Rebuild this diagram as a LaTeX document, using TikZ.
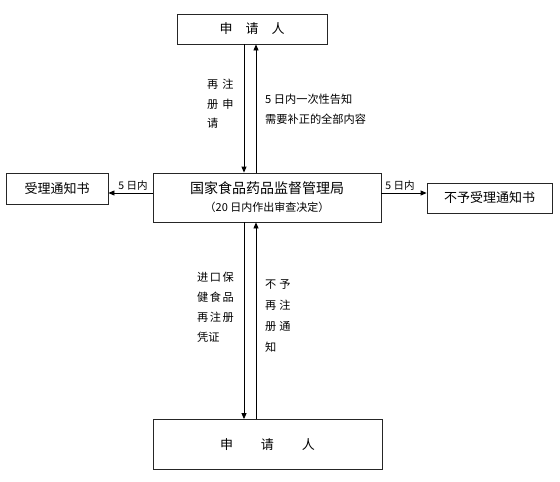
\documentclass[tikz,border=0pt]{standalone}
\usepackage{fontspec}
\setmainfont{Liberation Sans}
\newfontfamily\cjk{Noto Sans CJK SC}
\usetikzlibrary{arrows.meta, positioning}

\begin{document}
\begin{tikzpicture}[
    x=1pt, y=-1pt,
    box/.style={
        draw=black!85, line width=0.8pt, inner sep=0pt,
        align=center, font=\cjk\fontsize{13}{16}\selectfont
    },
    lbl/.style={
        align=left, inner sep=0pt, anchor=north west,
        font=\cjk\fontsize{11.2}{19.5}\selectfont
    },
    tag/.style={inner sep=0pt, font=\cjk\fontsize{10.5}{12}\selectfont},
    arr/.style={-{Triangle[length=6pt,width=5pt]}, line width=0.8pt},
    >=Triangle
]
\useasboundingbox (0,0) rectangle (560,482);

% --- Boxes ---
\node[box, minimum width=150pt, minimum height=30pt] (app) at (252,29)
    {申\hspace{13pt}请\hspace{13pt}人};
\node[box, minimum width=228pt, minimum height=49pt] (sfda) at (267,197.5) {%
    {\fontsize{14}{16}\selectfont 国家食品药品监督管理局}\\[2pt]
    {\fontsize{11}{12}\selectfont （20 日内作出审查决定）}%
};
\node[box, minimum width=102pt, minimum height=31pt] (accept) at (57,188.5)
    {受理通知书};
\node[box, minimum width=125pt, minimum height=30pt] (reject) at (489.5,198)
    {不予受理通知书};
\node[box, minimum width=229pt, minimum height=50pt] (appb) at (267.5,444.5)
    {申\hspace{28pt}请\hspace{28pt}人};

% --- Helper coordinates for the vertical connectors ---
\coordinate (dn) at (244,0);
\coordinate (up) at (256,0);
\coordinate (hy) at (0,193);

% --- Vertical connectors ---
\draw[arr] (app.south -| dn) -- (sfda.north -| dn);
\draw[arr] (sfda.north -| up) -- (app.south -| up);
\draw[arr] (sfda.south -| dn) -- (appb.north -| dn);
\draw[arr] (appb.north -| up) -- (sfda.south -| up);

% --- Horizontal connectors ---
\draw[arr] (sfda.west |- hy) -- (accept.east |- hy);
\draw[arr] (sfda.east |- hy) -- (reject.west |- hy);
\node[tag, anchor=south] (dayl) at (133,191) {5 日内};
\node[tag, anchor=south] (dayr) at (400,191) {5 日内};

% --- Connector labels ---
\node[lbl] (reapply) at (207,79)
    {再\hspace{4pt}注\\册\hspace{4pt}申\\请};
\node[lbl] (notice) at (265,94)
    {5 日内一次性告知\\需要补正的全部内容};
\node[lbl, font=\cjk\fontsize{11.2}{20}\selectfont] (cert) at (197,272)
    {进\hspace{1.5pt}口\hspace{1.5pt}保\\健\hspace{1.5pt}食\hspace{1.5pt}品\\再\hspace{1.5pt}注\hspace{1.5pt}册\\凭证};
\node[lbl, font=\cjk\fontsize{11.2}{21}\selectfont] (refuse) at (265,279)
    {不\hspace{3pt}予\\再\hspace{3pt}注\\册\hspace{3pt}通\\知};

\end{tikzpicture}
\end{document}
